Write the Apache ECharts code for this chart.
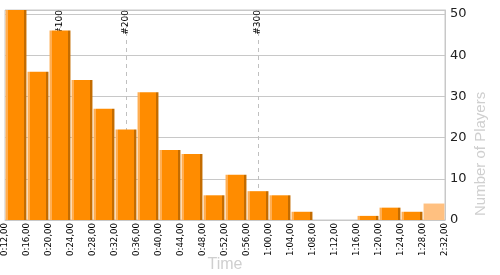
<!DOCTYPE html>
<html><head><meta charset="utf-8">
<script src="https://cdn.jsdelivr.net/npm/echarts@6/dist/echarts.min.js"></script>
<style>html,body{margin:0;padding:0;background:#fff}#c{width:500px;height:275px}</style>
</head><body><div id="c"></div>
<script>
const binLabels = ['0:12,00','0:16,00','0:20,00','0:24,00','0:28,00','0:32,00','0:36,00','0:40,00','0:44,00','0:48,00','0:52,00','0:56,00','1:00,00','1:04,00','1:08,00','1:12,00','1:16,00','1:20,00','1:24,00','1:28,00','2:32,00'];
const bins = ['b1','b2','b3','b4','b5','b6','b7','b8','b9','b10','b11','b12','b13','b14','b15','b16','b17','b18','b19','b20'];
const players = [51,36,46,34,27,22,31,17,16,6,11,7,6,2,0,0,1,3,2,4];
const highlightLastBin = true;
const rankMarkers = [{label:'#100', bin:2},{label:'#200', bin:5},{label:'#300', bin:11}];
const yTicks = [0,10,20,30,40,50];
const yName = 'Number of Players';
const xName = 'Time';

const barGrad = new echarts.graphic.LinearGradient(0,0,1,0,[
  {offset:0,color:'#FFAE52'},{offset:0.14,color:'#FFAE52'},
  {offset:0.14,color:'#FF8C00'},{offset:0.87,color:'#FF8C00'},
  {offset:0.87,color:'#C46C00'},{offset:1,color:'#C46C00'}
]);
const data = players.map((v,i)=>{
  if (highlightLastBin && i===players.length-1) return {value:v,itemStyle:{color:'#FFC080'}};
  return {value:v,itemStyle:{color:barGrad}};
});
const chart = echarts.init(document.getElementById('c'),null,{renderer:'canvas'});
chart.setOption({
  animation:false,
  backgroundColor:'#fff',
  grid:{left:5,right:55,top:10,bottom:55,containLabel:false,outerBoundsMode:'none',show:true,borderColor:'#c8c8c8',borderWidth:1,backgroundColor:'transparent'},
  graphic:[{type:'text',x:481,y:216,rotation:Math.PI/2,silent:true,
    style:{text:yName,fill:'#cfcfcf',fontSize:15,fontFamily:'Liberation Sans',align:'left',verticalAlign:'middle'}}],
  xAxis:[
    {type:'category',data:bins,boundaryGap:true,axisLine:{lineStyle:{color:'#c8c8c8'}},axisTick:{show:false},axisLabel:{show:false},
     name:xName,nameLocation:'middle',nameGap:37,nameTextStyle:{color:'#cfcfcf',fontSize:16,fontFamily:'Liberation Sans'}},
    {type:'category',data:binLabels,boundaryGap:false,position:'bottom',axisLine:{show:false},axisTick:{show:false},
     axisLabel:{rotate:90,fontSize:8.6,color:'#000',fontFamily:'DejaVu Sans',margin:3,interval:0}}
  ],
  yAxis:{type:'value',position:'right',min:0,max:51,interval:10,
    axisLine:{show:true,lineStyle:{color:'#c8c8c8'}},axisTick:{show:false},
    splitLine:{lineStyle:{color:'#c8c8c8'}},
    axisLabel:{color:'#222',fontSize:13,fontFamily:'DejaVu Sans',margin:5,customValues:yTicks}},
  series:[{type:'bar',xAxisIndex:0,data:data,barCategoryGap:'5%',
    markLine:{symbol:'none',silent:true,z:1,
      lineStyle:{type:[4,4],color:'#c0c0c0',width:1},
      data:rankMarkers.map(m=>({xAxis:m.bin,name:m.label,
        label:{show:true,formatter:m.label,position:'insideEnd',distance:[0,-4],color:'#000',fontSize:9,fontFamily:'DejaVu Sans'}}))
    }, z:2}]
});
</script></body></html>
